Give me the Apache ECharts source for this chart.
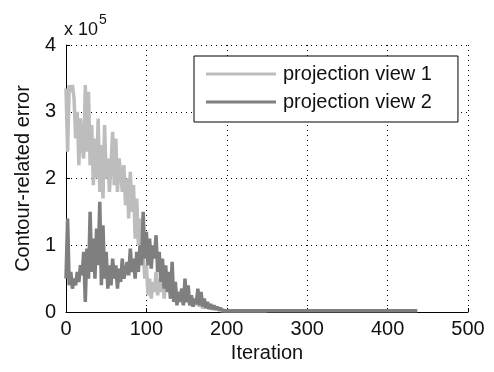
<!DOCTYPE html>
<html>
<head>
    <meta charset="utf-8">
    <script src="https://cdn.jsdelivr.net/npm/echarts@6/dist/echarts.min.js"></script>
</head>
<body style="margin:0;background:#fff;">
    <div id="main" style="width: 494px;height:372px;"></div>
    <script type="text/javascript">
        // iterations and error values (x 10^5)
        var iter1 = [0,2,4,6,8,10,12,14,16,18,20,22,24,26,28,30,32,34,36,38,40,42,44,46,48,50,52,54,56,58,60,62,64,66,68,70,72,74,76,78,80,82,84,86,88,90,92,94,96,98,100,102,104,106,108,110,112,114,116,118,120,122,124,126,128,130,132,134,136,138,140,142,144,146,148,150,152,154,156,158,160,162,164,166,168,170,172,174,176,178,180,182,184,186,188,190,192,194,196,198,200,210,230,250];
        var view1 = [3.35,2.4,3.4,3.3,3.4,3.2,2.6,3.0,2.2,2.9,2.5,2.3,3.4,2.4,3.3,2.2,2.8,1.9,2.6,2.0,2.9,1.8,2.5,1.7,2.8,2.0,2.3,1.8,2.2,2.7,1.9,2.6,1.8,2.3,2.1,1.8,2.2,1.6,2.0,1.4,2.1,1.5,1.9,1.1,1.7,1.0,1.4,0.8,0.9,0.5,0.7,0.25,0.5,0.2,0.45,0.3,0.6,0.25,0.5,0.3,0.55,0.2,0.45,0.3,0.5,0.2,0.4,0.25,0.35,0.15,0.3,0.2,0.35,0.12,0.3,0.15,0.25,0.1,0.2,0.08,0.18,0.1,0.22,0.08,0.15,0.05,0.12,0.06,0.1,0.04,0.08,0.04,0.07,0.03,0.06,0.03,0.05,0.02,0.04,0.02,0.03,0.02,0.02,0.02];
        var iter2 = [0,2,4,6,8,10,12,14,16,18,20,22,24,26,28,30,32,34,36,38,40,42,44,46,48,50,52,54,56,58,60,62,64,66,68,70,72,74,76,78,80,82,84,86,88,90,92,94,96,98,100,102,104,106,108,110,112,114,116,118,120,122,124,126,128,130,132,134,136,138,140,142,144,146,148,150,152,154,156,158,160,162,164,166,168,170,172,174,176,178,180,182,184,186,188,190,192,194,196,198,200,210,250,300,350,400,437];
        var view2 = [0.5,1.4,0.4,0.6,0.35,0.5,0.4,0.6,0.45,0.7,0.55,0.9,0.15,0.95,0.5,1.5,0.6,1.1,0.5,1.25,0.7,1.65,0.4,1.3,0.5,0.9,0.35,0.7,0.4,0.8,0.5,0.7,0.35,0.65,0.45,0.8,0.5,0.6,0.75,0.55,0.95,0.6,0.8,0.5,0.9,0.6,1.0,0.7,1.5,0.8,1.2,0.7,1.1,0.65,1.0,0.8,1.15,0.6,0.9,0.45,0.8,0.35,0.7,0.3,0.6,0.2,0.75,0.15,0.45,0.1,0.3,0.15,0.35,0.1,0.5,0.15,0.4,0.1,0.25,0.08,0.2,0.12,0.35,0.1,0.3,0.08,0.2,0.06,0.15,0.05,0.12,0.04,0.1,0.04,0.08,0.03,0.06,0.03,0.05,0.02,0.03,0.02,0.02,0.02,0.02,0.02,0.02];
        var seriesNames = ['projection view 1', 'projection view 2'];
        var xTicks = [0, 100, 200, 300, 400, 500];
        var yTicks = [0, 1, 2, 3, 4];

        function pairs(xs, ys) {
            var res = [];
            for (var i = 0; i < xs.length; i++) {
                res.push([xs[i], ys[i]]);
            }
            return res;
        }

        var myChart = echarts.init(document.getElementById('main'));
        var font = 'Liberation Sans, Arial, sans-serif';
        var gridLine = { show: true, lineStyle: { color: '#000', type: [1, 4], width: 1 } };

        var option = {
            animation: false,
            backgroundColor: '#fff',
            grid: { left: 66, right: 26, top: 45, bottom: 60 },
            legend: {
                orient: 'vertical',
                left: 194,
                top: 56,
                padding: [6, 26, 8, 12],
                itemGap: 4,
                itemWidth: 70,
                itemHeight: 3,
                icon: 'rect',
                borderColor: '#000',
                borderWidth: 1,
                borderRadius: 0,
                backgroundColor: '#fff',
                textStyle: { fontFamily: font, fontSize: 20, lineHeight: 24, color: '#111', padding: [0, 0, 0, 2] },
                data: seriesNames
            },
            xAxis: {
                type: 'value',
                min: xTicks[0],
                max: xTicks[xTicks.length - 1],
                interval: 100,
                name: 'Iteration',
                nameLocation: 'middle',
                nameGap: 30,
                nameTextStyle: { fontFamily: font, fontSize: 20, color: '#111' },
                axisLine: { lineStyle: { color: '#000', width: 1 } },
                axisTick: { inside: true, length: 4, lineStyle: { color: '#000' } },
                axisLabel: { fontFamily: font, fontSize: 20, color: '#111', margin: 7 },
                splitLine: gridLine
            },
            yAxis: {
                type: 'value',
                min: yTicks[0],
                max: yTicks[yTicks.length - 1],
                interval: 1,
                name: 'Contour-related error',
                nameLocation: 'middle',
                nameGap: 33,
                nameTextStyle: { fontFamily: font, fontSize: 20, color: '#111' },
                axisLine: { show: true, lineStyle: { color: '#000', width: 1 } },
                axisTick: { show: true, inside: true, length: 4, lineStyle: { color: '#000' } },
                axisLabel: { fontFamily: font, fontSize: 20, color: '#111', margin: 10 },
                splitLine: gridLine
            },
            graphic: [{
                type: 'text',
                left: 64,
                top: 13,
                style: {
                    text: '{b|x 10}{s|5}',
                    rich: {
                        b: { fontFamily: font, fontSize: 18, fill: '#111', verticalAlign: 'bottom', lineHeight: 26 },
                        s: { fontFamily: font, fontSize: 14, fill: '#111', verticalAlign: 'top', padding: [0, 0, 12, 1] }
                    }
                }
            }],
            series: [
                {
                    name: seriesNames[0],
                    type: 'line',
                    symbol: 'none',
                    data: pairs(iter1, view1),
                    lineStyle: { color: '#bdbdbd', width: 3.5 },
                    itemStyle: { color: '#bdbdbd' }
                },
                {
                    name: seriesNames[1],
                    type: 'line',
                    symbol: 'none',
                    data: pairs(iter2, view2),
                    lineStyle: { color: '#7f7f7f', width: 3.5 },
                    itemStyle: { color: '#7f7f7f' }
                }
            ]
        };

        myChart.setOption(option);
    </script>
</body>
</html>
